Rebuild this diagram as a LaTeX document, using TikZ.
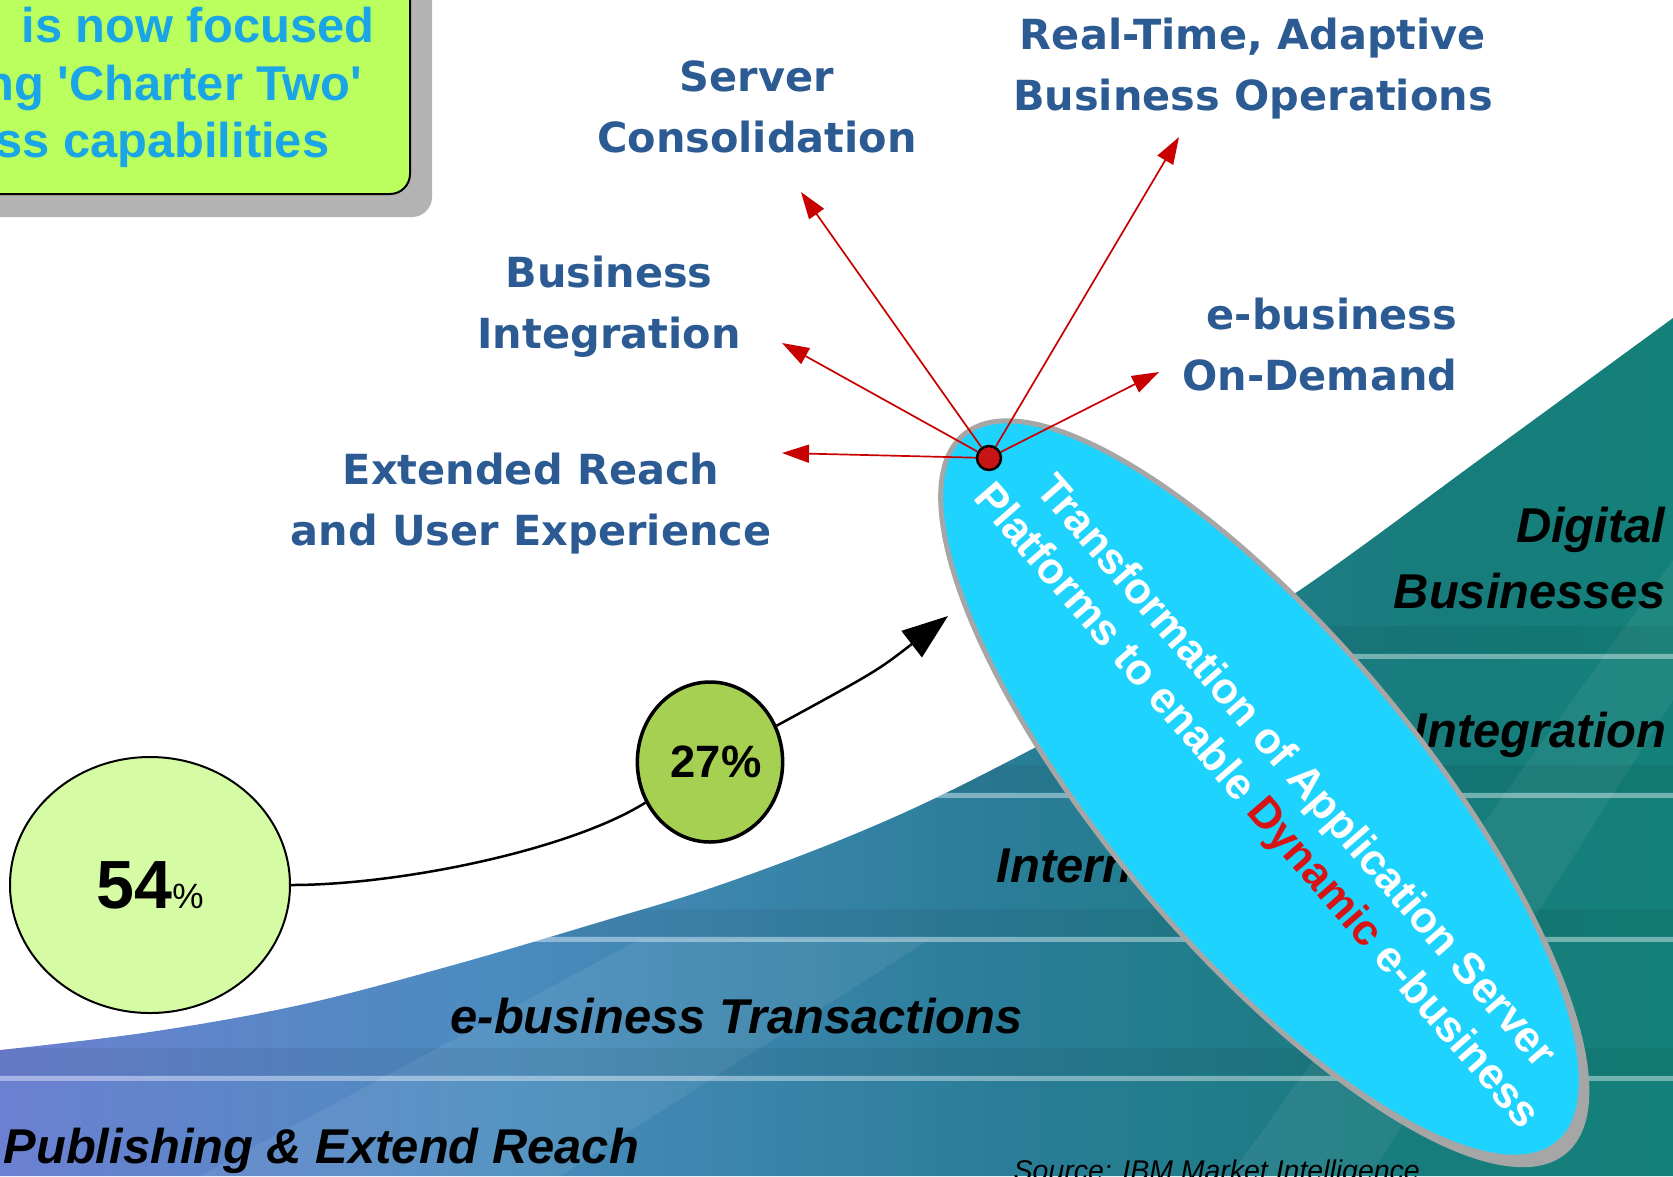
\documentclass[tikz,border=0pt]{standalone}
\usepackage{fontspec}
\setmainfont{Liberation Sans}
\newfontfamily\vfont{DejaVu Sans}
\usepackage{xcolor}
\definecolor{optblue}{RGB}{44,90,146}
\definecolor{boxgreen}{RGB}{187,255,95}
\definecolor{boxtext}{RGB}{26,166,230}
\definecolor{boxshadow}{RGB}{179,179,179}
\definecolor{ovalcyan}{RGB}{31,211,255}
\definecolor{ovalrim}{RGB}{166,166,166}
\definecolor{hubred}{RGB}{200,20,20}
\definecolor{arrowred}{RGB}{200,0,0}
\definecolor{lightgreen}{RGB}{214,251,165}
\definecolor{olivegreen}{RGB}{166,208,82}
\definecolor{dynred}{RGB}{215,20,20}
\definecolor{waveA}{RGB}{108,128,210}
\definecolor{waveB}{RGB}{74,140,190}
\definecolor{waveC}{RGB}{42,125,152}
\definecolor{waveD}{RGB}{24,124,124}
\definecolor{waveE}{RGB}{20,128,122}
\usepackage{tikz}
\usetikzlibrary{shapes.geometric,arrows.meta,positioning}
\pgfdeclarehorizontalshading{wave}{100bp}{color(0bp)=(waveA); color(25bp)=(waveA); color(40bp)=(waveB); color(55bp)=(waveC); color(67.5bp)=(waveD); color(75bp)=(waveE); color(100bp)=(waveE)}
\newcommand\wavecurve{plot[smooth, tension=0.6] coordinates {(0,1050) (150,1032) (300,1005) (450,966) (600,922) (717,886) (850,836) (970,781) (1140,690) (1300,590) (1483,457) (1673,318)}}

\begin{document}
\begin{tikzpicture}[x=0.1mm, y=-0.1mm,
    optlabel/.style={font=\vfont\bfseries\fontsize{11.8}{17.1}\selectfont, text=optblue, align=center, inner sep=0},
    stagelabel/.style={font=\bfseries\itshape\fontsize{13.9}{18.5}\selectfont, inner sep=0},
    boxline/.style={font=\bfseries\fontsize{13.9}{16.4}\selectfont, text=boxtext, inner sep=0, anchor=base east},
    redarrow/.style={draw=arrowred, line width=0.17mm, -{Triangle[length=2.7mm, width=1.8mm]}},
    trend/.style={draw=black, line width=0.25mm},
    pct/.style={ellipse, draw=black, inner sep=0},
    oval/.style={ellipse, minimum width=92.5mm, minimum height=31.1mm, rotate=-50, inner sep=0}]
  \useasboundingbox (0,0) rectangle (1673,1176);
  \clip (0,0) rectangle (1673,1176);
  \fill[white] (0,0) rectangle (1673,1176);

  % rising wave with its steps
  \path[shading=wave] \wavecurve -- (1673,1176) -- (0,1176) -- cycle;
  \begin{scope}
    \clip \wavecurve -- (1673,1176) -- (0,1176) -- cycle;
    \fill[white, opacity=0.07] (200,1176) -- (640,939) -- (930,939) -- (560,1176) -- cycle;
    \fill[white, opacity=0.06] (1230,1176) -- (1673,560) -- (1673,700) -- (1370,1176) -- cycle;
    \foreach \y in {656,795,939,1078} {
      \fill[black, opacity=0.06] (0,\y-30) rectangle (1673,\y-3);
      \draw[white, opacity=0.4, line width=0.5mm] (0,\y) -- (1673,\y);
    }
  \end{scope}

  % stages
  \node[stagelabel, anchor=base west] (stPublish) at (3,1163) {Publishing \& Extend Reach};
  \node[stagelabel, anchor=base west] (stTrans) at (450,1033) {e-business Transactions};
  \node[stagelabel, anchor=base west] (stInter) at (996,882) {Intern};
  \node[stagelabel, anchor=base east] (stIntegr) at (1667,747) {Integration};
  \node[stagelabel, anchor=base east, align=right] (stDigital) at (1666,608) {Digital\\Businesses};
  \node[font=\itshape\fontsize{8.1}{10}\selectfont, anchor=base west, inner sep=0] (source) at (1013,1180) {Source: IBM Market Intelligence};

  % percentages
  \node[pct, fill=lightgreen, line width=0.2mm, minimum width=28mm, minimum height=25.6mm] (c54) at (150,885)
    {{\fontsize{19.4}{20}\selectfont\bfseries 54}{\fontsize{10}{12}\selectfont\%}};
  \node[pct, fill=olivegreen, line width=0.35mm, minimum width=14.4mm, minimum height=16mm] (c27) at (710,762)
    {\hspace{1.2mm}\bfseries\fontsize{12.9}{14}\selectfont 27\%};
  \coordinate (trendtip) at (948,616);
  \draw[trend] (c54) .. controls (400,885) and (570,850) .. (c27);
  \draw[trend, -{Triangle[length=4.6mm, width=3.3mm]}] (c27) .. controls (877,671) .. (trendtip);

  % transformation oval
  \node[oval, fill=ovalrim] (ovalshade) at (1269,799) {};
  \node[oval, fill=ovalcyan, draw=ovalrim, line width=0.5mm] (ovalmain) at (1261,789) {};
  \node[rotate=-49, align=center, text=white, font=\bfseries\fontsize{12.4}{14.8}\selectfont] (ovaltext) at (1275,790)
    {Transformation of Application Server\\Platforms to enable \textcolor{dynred}{Dynamic} e-business};

  % hub and its options
  \node[circle, fill=hubred, draw=black, line width=0.25mm, minimum size=2.4mm, inner sep=0] (hub) at (989,458) {};
  \coordinate (tipServer) at (801,192);
  \coordinate (tipRealTime) at (1179,137);
  \coordinate (tipBizInt) at (782,343);
  \coordinate (tipOnDemand) at (1159,372);
  \coordinate (tipExtReach) at (782,453);
  \foreach \t in {tipServer,tipRealTime,tipBizInt,tipOnDemand,tipExtReach}
    \draw[redarrow] (hub) -- (\t);

  \node[optlabel, anchor=base] (lblServer) at (757,152) {Server\\Consolidation};
  \node[optlabel, anchor=base] (lblRealTime) at (1253,110) {Real-Time, Adaptive\\Business Operations};
  \node[optlabel, anchor=base] (lblBizInt) at (609,348) {Business\\Integration};
  \node[optlabel, anchor=base east, align=right] (lblOnDemand) at (1458,390) {e-business\\On-Demand};
  \node[optlabel, anchor=base] (lblExtReach) at (531,545) {Extended Reach\\and User Experience};

  % charter box
  \fill[boxshadow, rounded corners=2mm] (-40,-40) rectangle (432,217);
  \draw[fill=boxgreen, line width=0.2mm, rounded corners=2mm] (-40,-40) rectangle (410,194);
  \node[boxline] (boxA) at (375,42) {is now focused};
  \node[boxline] (boxB) at (363,100) {ng \textquotesingle Charter Two\textquotesingle};
  \node[boxline] (boxC) at (330,157) {ss capabilities};
\end{tikzpicture}
\end{document}
